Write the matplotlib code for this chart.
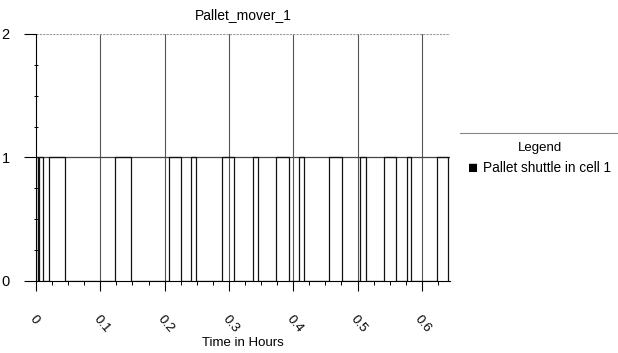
import matplotlib
matplotlib.use("Agg")
import matplotlib.pyplot as plt
from matplotlib.ticker import MultipleLocator

plt.rcParams["font.family"] = ["Liberation Sans", "DejaVu Sans"]

# times (hours) where the state of the pallet mover changes
switch_times = [0.0, 0.0005, 0.0028, 0.0051, 0.0109, 0.0207, 0.0456, 0.1222,
                0.1482, 0.2062, 0.2255, 0.2411, 0.2493, 0.2893, 0.3084,
                0.3375, 0.3457, 0.3737, 0.3928, 0.4084, 0.4173, 0.4561,
                0.4759, 0.5044, 0.5129, 0.5406, 0.5604, 0.5767, 0.5837,
                0.6241, 0.6412]
states = [0, 1, 0, 1, 0, 1, 0, 1, 0, 1, 0, 1, 0, 1, 0, 1, 0, 1, 0, 1, 0,
          1, 0, 1, 0, 1, 0, 1, 0, 1, 0]
xticks = [0, 0.1, 0.2, 0.3, 0.4, 0.5, 0.6]
xtick_labels = ["0", "0.1", "0.2", "0.3", "0.4", "0.5", "0.6"]
yticks = [0, 1, 2]
series_name = "Pallet shuttle in cell 1"

fig = plt.figure(figsize=(6.18, 3.53), dpi=100)
ax = fig.add_axes([0.0583, 0.204, 0.670, 0.700])

# grid
for x in xticks[1:]:
    ax.axvline(x, color="#555555", lw=0.8, zorder=1)
ax.axhline(2, color="#999999", lw=0.8, ls=(0, (2, 1)), zorder=1)
ax.axhline(1, color="#444444", lw=0.9, zorder=1)

ax.step(switch_times, states, where="post", color="#111111", lw=0.9, zorder=2)

ax.set_xlim(0, 0.644)
ax.set_ylim(0, 2)
ax.set_xticks(xticks)
ax.set_xticklabels(xtick_labels, rotation=-50, ha="left", va="top",
                   rotation_mode="anchor", fontsize=9.5)
ax.xaxis.set_minor_locator(MultipleLocator(0.025))
ax.set_yticks(yticks)
ax.set_yticklabels([str(v) for v in yticks], fontsize=10.5)
ax.yaxis.set_minor_locator(MultipleLocator(0.25))
ax.tick_params(axis="x", which="major", length=7, width=0.8, pad=16)
ax.tick_params(axis="x", which="minor", length=3, width=0.7)
ax.tick_params(axis="y", which="major", length=9, width=0.8, pad=10)
ax.tick_params(axis="y", which="minor", length=3, width=0.7, direction="inout")

for s in ["top", "right"]:
    ax.spines[s].set_visible(False)
ax.spines["left"].set_linewidth(0.8)
ax.spines["bottom"].set_linewidth(0.8)

ax.set_title("Pallet_mover_1", fontsize=10, pad=11)
fig.text(243 / 618, 1 - 343 / 353, "Time in Hours", ha="center",
         va="center", fontsize=9.5)

# legend block on the right
fig.add_artist(plt.Line2D([460 / 618, 1.0], [1 - 133 / 353, 1 - 133 / 353],
                          color="#888888", lw=0.8))
fig.text(540 / 618, 1 - 148 / 353, "Legend", ha="center", va="center",
         fontsize=9.5)
fig.text(468 / 618, 1 - 168 / 353, "\u25A0", ha="left", va="center",
         fontsize=12, color="black")
fig.text(483 / 618, 1 - 168 / 353, series_name, ha="left", va="center",
         fontsize=9.8)

fig.savefig("out.png", dpi=100)
